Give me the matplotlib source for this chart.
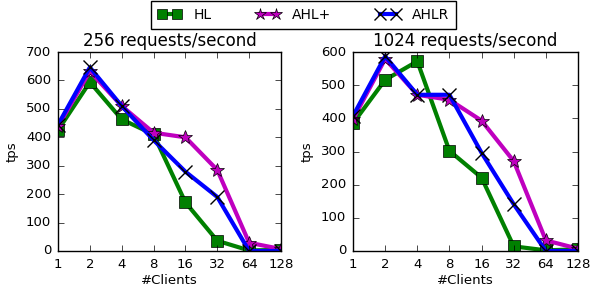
import numpy as np
import matplotlib
matplotlib.use('Agg')
import matplotlib.pyplot as plt

plt.style.use('classic')

clients = ['1', '2', '4', '8', '16', '32', '64', '128']

# 256 requests/second
hl_256 = [425, 594, 463, 410, 171, 36, 2, 4]
ahlp_256 = [438, 632, 510, 416, 400, 285, 29, 7]
ahlr_256 = [444, 646, 510, 390, 279, 190, 0, 0]

# 1024 requests/second
hl_1024 = [385, 516, 572, 302, 221, 14, 2, 5]
ahlp_1024 = [397, 579, 471, 456, 393, 271, 32, 7]
ahlr_1024 = [407, 587, 471, 471, 296, 141, 0, 0]

fig = plt.figure(figsize=(6.07, 2.87), dpi=100)
ax1 = fig.add_axes([58/607., 1-251/287., 223/607., 199/287.])
ax2 = fig.add_axes([353/607., 1-251/287., 225/607., 199/287.])

x = np.arange(len(clients))

def draw(ax, hl, ahlp, ahlr, title, ymax):
    l1, = ax.plot(x, hl, 'g-', marker='s', lw=3, ms=8, mec='k', label='HL')
    l2, = ax.plot(x, ahlp, 'm-', marker='*', lw=3, ms=10, mec='k', label='AHL+')
    l3, = ax.plot(x, ahlr, 'b-', marker='x', lw=3, ms=10, mec='k', mew=1, label='AHLR')
    ax.set_xticks(x)
    ax.set_xticklabels(clients)
    ax.set_xlim(0, len(clients)-1)
    ax.set_ylim(0, ymax)
    ax.set_xlabel('#Clients', fontsize=9.5, labelpad=2)
    ax.set_ylabel('tps', fontsize=9.5)
    ax.set_title(title, fontsize=12, y=0.995)
    ax.tick_params(labelsize=9.5, pad=5)
    return l1, l2, l3

lines = draw(ax1, hl_256, ahlp_256, ahlr_256, '256 requests/second', 700)
draw(ax2, hl_1024, ahlp_1024, ahlr_1024, '1024 requests/second', 600)

fig.legend(lines, ['HL', 'AHL+', 'AHLR'], loc='upper center', ncol=3,
           bbox_to_anchor=(0.5, 1.0), fontsize=10, numpoints=2,
           borderaxespad=0.1, columnspacing=3.2, handlelength=1.7,
           handletextpad=0.9, borderpad=0.5, markerscale=0.9)

fig.savefig('out.png', dpi=100)
